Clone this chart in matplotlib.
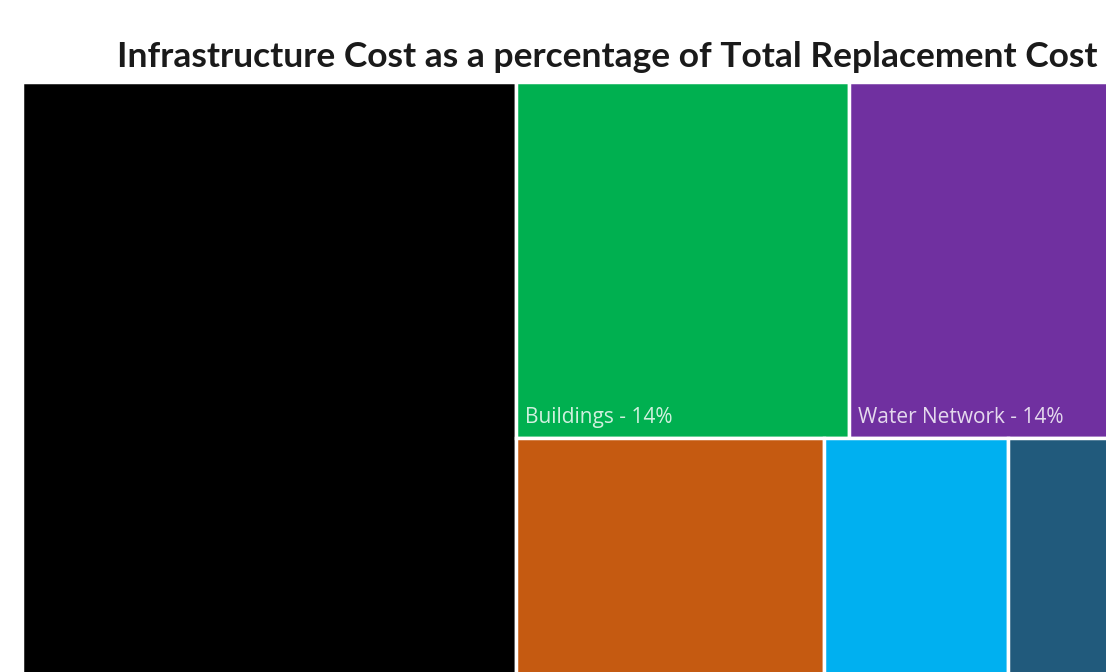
import matplotlib.pyplot as plt
from matplotlib.patches import Rectangle

# share of total replacement cost (%) per asset class
names = ['Roads', 'Buildings', 'Water Network', 'Sewer Network', 'Stormwater', 'Other']
values = [42.6, 14.0, 14.0, 13.6, 8.1, 7.7]
colors = ['#000000', '#00B050', '#7030A0', '#C55A11', '#00B0F0', '#215A7C']

# nesting of the treemap: big block on the left, two rows on the right
groups = [[0], [[1, 2], [3, 4, 5]]]


def weight(node):
    if isinstance(node, int):
        return values[node]
    return sum(weight(n) for n in node)


def layout(node, x, y, w, h, split_x, out):
    # plain slice-and-dice, alternating direction at each level
    if isinstance(node, int):
        out[node] = (x, y, w, h)
        return
    tot = weight(node)
    for child in node:
        f = weight(child) / tot
        if split_x:
            layout(child, x, y, w * f, h, not split_x, out)
            x += w * f
        else:
            layout(child, x, y, w, h * f, not split_x, out)
            y += h * f


W, H = 1160, 730
rects = {}
layout(groups, 0, 0, W, H, True, rects)

fig = plt.figure(figsize=(11.06, 6.72), dpi=100)
ax = fig.add_axes([22 / 1106, 0, 1084 / 1106, 590 / 672])
ax.set_xlim(0, 1084)
ax.set_ylim(590, 0)
ax.axis('off')

ymax = ax.get_ylim()[0]
for i, name in enumerate(names):
    x, y, w, h = rects[i]
    ax.add_patch(Rectangle((x, y), w, h, facecolor=colors[i],
                           edgecolor='white', linewidth=2.5))
    # label sits in the lower left corner; skip the ones below the view
    ty = y + h - 15
    if ty < ymax:
        ax.text(x + 9, ty, f'{name} - {values[i]:.0f}%', color='white',
                alpha=0.82, fontsize=15, family='Open Sans',
                ha='left', va='baseline')

fig.text(607 / 1106, 1 - 57 / 672,
         'Infrastructure Cost as a percentage of Total Replacement Cost',
         ha='center', va='center', fontsize=25.5, fontweight='bold',
         family='Lato', color='#1a1a1a')

fig.savefig('out.png', dpi=100)
